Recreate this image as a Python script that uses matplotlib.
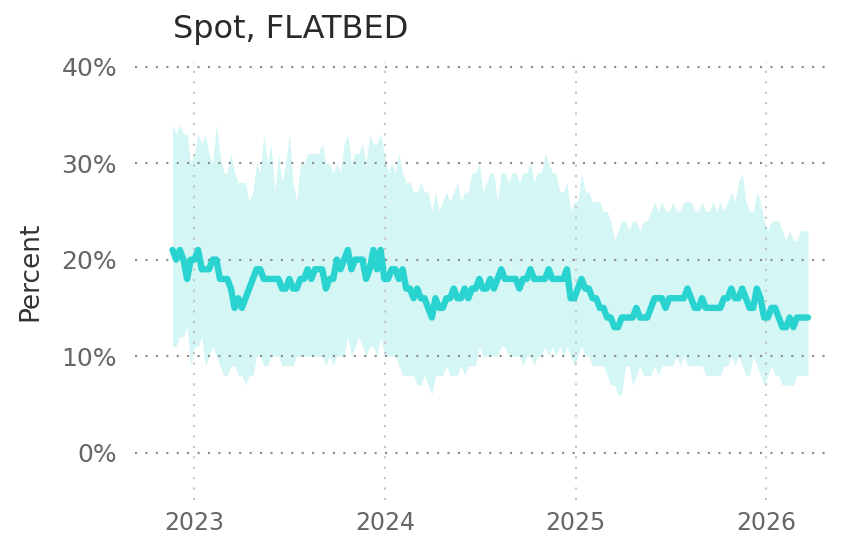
import matplotlib
matplotlib.use('Agg')
import matplotlib.pyplot as plt
import matplotlib.dates as mdates
from matplotlib.ticker import PercentFormatter
import numpy as np
import pandas as pd

# 週ごとのデータ (2022-11-20 から 175週)
dates = pd.date_range("2022-11-20", periods=175, freq="7D")

# 中央値 (%)
median = (
    [21, 20, 21, 20, 18, 20, 20, 21, 19, 19, 19, 20, 20, 18, 18, 18, 17, 15, 16, 15,
     16, 17, 18, 19, 19, 18, 18, 18, 18]
    + [18, 17, 17, 18, 17, 17, 18, 18, 19, 18, 19, 19, 19, 17, 18, 18, 20, 19, 20, 21,
       19, 20, 20, 20, 18, 19, 21, 19, 21, 18]
    + [18, 19, 19, 18, 19, 17, 17, 16, 17, 16, 16, 15, 14, 16, 15, 15, 16, 16, 17, 16,
       16, 17, 16, 17, 17, 18, 17, 17, 18]
    + [17, 18, 19, 18, 18, 18, 18, 17, 18, 18, 19, 18, 18, 18, 18, 19, 18, 18, 18, 18, 19]
    + [16, 16, 17, 18, 17, 17, 16, 16, 15, 15, 14, 14, 13, 13, 14, 14, 14, 14, 15, 14,
       14, 14, 15, 16, 16, 16, 15, 16, 16, 16, 16, 16, 17, 16, 15, 15, 16, 15, 15, 15,
       15, 15, 16, 16, 17, 16, 16, 17, 16, 15, 15, 17, 16, 14, 14, 15, 15, 14, 13, 13,
       14, 13, 14, 14, 14, 14]
)

# 上限 (%)
upper = (
    [34, 33, 34, 33, 33, 30, 31, 33, 32, 33, 31, 30, 34, 31, 29, 29, 31, 29, 28, 28,
     28, 26, 27, 30, 29, 33, 30, 32]
    + [27, 31, 28, 30, 33, 28, 26, 30, 30, 31, 31, 31, 31, 32, 30, 30, 29, 30, 29, 32,
       33, 30, 31, 31, 32, 30, 33, 32, 32, 33, 31]
    + [29, 30, 29, 31, 29, 28, 28, 27, 27, 28, 27, 27, 25, 27, 25, 26, 27, 26, 27, 28,
       26, 27, 27, 29, 29, 30, 27, 28, 29]
    + [29, 26, 29, 29, 28, 29, 29, 28, 29, 29, 30, 28, 29, 29, 31, 30, 29, 29, 27, 27,
       28, 25, 26, 26, 29, 27, 27, 26]
    + [26, 26, 25, 25, 24, 22, 23, 24, 24, 23, 24, 24, 23, 24, 24, 25, 26, 25, 26, 25,
       25, 26, 25, 25, 26, 26, 26, 25, 25, 26, 25, 25, 26, 25, 26, 25, 26, 27, 26, 28,
       29, 26, 25, 25, 27, 26, 24, 23, 24, 24, 24, 23, 22, 23, 22, 22, 23, 23, 23]
)

# 下限 (%)
lower = (
    [11, 11, 12, 12, 13, 9, 11, 11, 12, 9, 10, 11, 10, 9, 8, 8, 9, 9, 8, 8,
     7, 8, 8, 10, 10, 9, 9, 10, 10]
    + [10, 9, 9, 9, 9, 10, 10, 10, 10, 10, 10, 10, 10, 9, 10, 9, 10, 10, 10, 12,
       10, 11, 12, 11, 10, 11, 11, 10, 12, 10]
    + [10, 10, 10, 9, 8, 8, 8, 8, 7, 7, 8, 7, 6, 8, 8, 8, 9, 8, 8, 8,
       9, 8, 9, 9, 9, 11, 10, 10, 10]
    + [10, 10, 11, 11, 10, 10, 10, 10, 9, 10, 10, 9, 10, 10, 11, 10, 11, 10, 11, 10,
       11, 10, 9, 10, 11, 10, 10, 9]
    + [9, 9, 9, 8, 7, 7, 6, 6, 9, 9, 7, 8, 9, 8, 8, 8, 9, 8, 9, 9,
       9, 9, 10, 9, 10, 9, 9, 9, 9, 9, 8, 8, 8, 8, 8, 9, 9, 10, 9, 10,
       9, 8, 8, 10, 9, 8, 7, 8, 9, 8, 8, 7, 7, 7, 7, 8, 8, 8, 8]
)

line_color = "#29d3cf"

fig = plt.figure(figsize=(8.65, 5.37), dpi=100)
ax = fig.add_axes([0.156, 0.069, 0.804, 0.816])

ax.fill_between(dates, lower, upper, color=line_color, alpha=0.2, linewidth=0, zorder=1)
ax.plot(dates, median, color=line_color, linewidth=4.6, solid_joinstyle="round",
        solid_capstyle="round", zorder=3)

# 軸の設定
ax.set_xlim(pd.Timestamp("2022-09-09"), pd.Timestamp("2026-05-04"))
ax.set_ylim(-4.9, 40.5)
ax.set_yticks([0, 10, 20, 30, 40])
ax.yaxis.set_major_formatter(PercentFormatter(decimals=0))
ax.xaxis.set_major_locator(mdates.YearLocator())
ax.xaxis.set_major_formatter(mdates.DateFormatter("%Y"))

for s in ax.spines.values():
    s.set_visible(False)
ax.tick_params(axis="both", length=0, labelcolor="#666666")
ax.tick_params(axis="y", pad=13, labelsize=18)
ax.tick_params(axis="x", pad=8, labelsize=17)

ax.set_axisbelow("line")
ax.grid(axis="y", color="#8a8a8a", linestyle=(0, (1, 4)), linewidth=1.5, zorder=2)
ax.grid(axis="x", color="#c4c4c4", linestyle=(0, (1, 4)), linewidth=1.5, zorder=2)

fig.text(173 / 865, 1 - 38 / 537, "Spot, FLATBED", fontsize=23, color="#2a2a2a",
         ha="left", va="baseline")
fig.text(30 / 865, 1 - 271 / 537, "Percent", fontsize=19, color="#333333",
         rotation=90, ha="center", va="center")

fig.savefig("out.png", dpi=100)
